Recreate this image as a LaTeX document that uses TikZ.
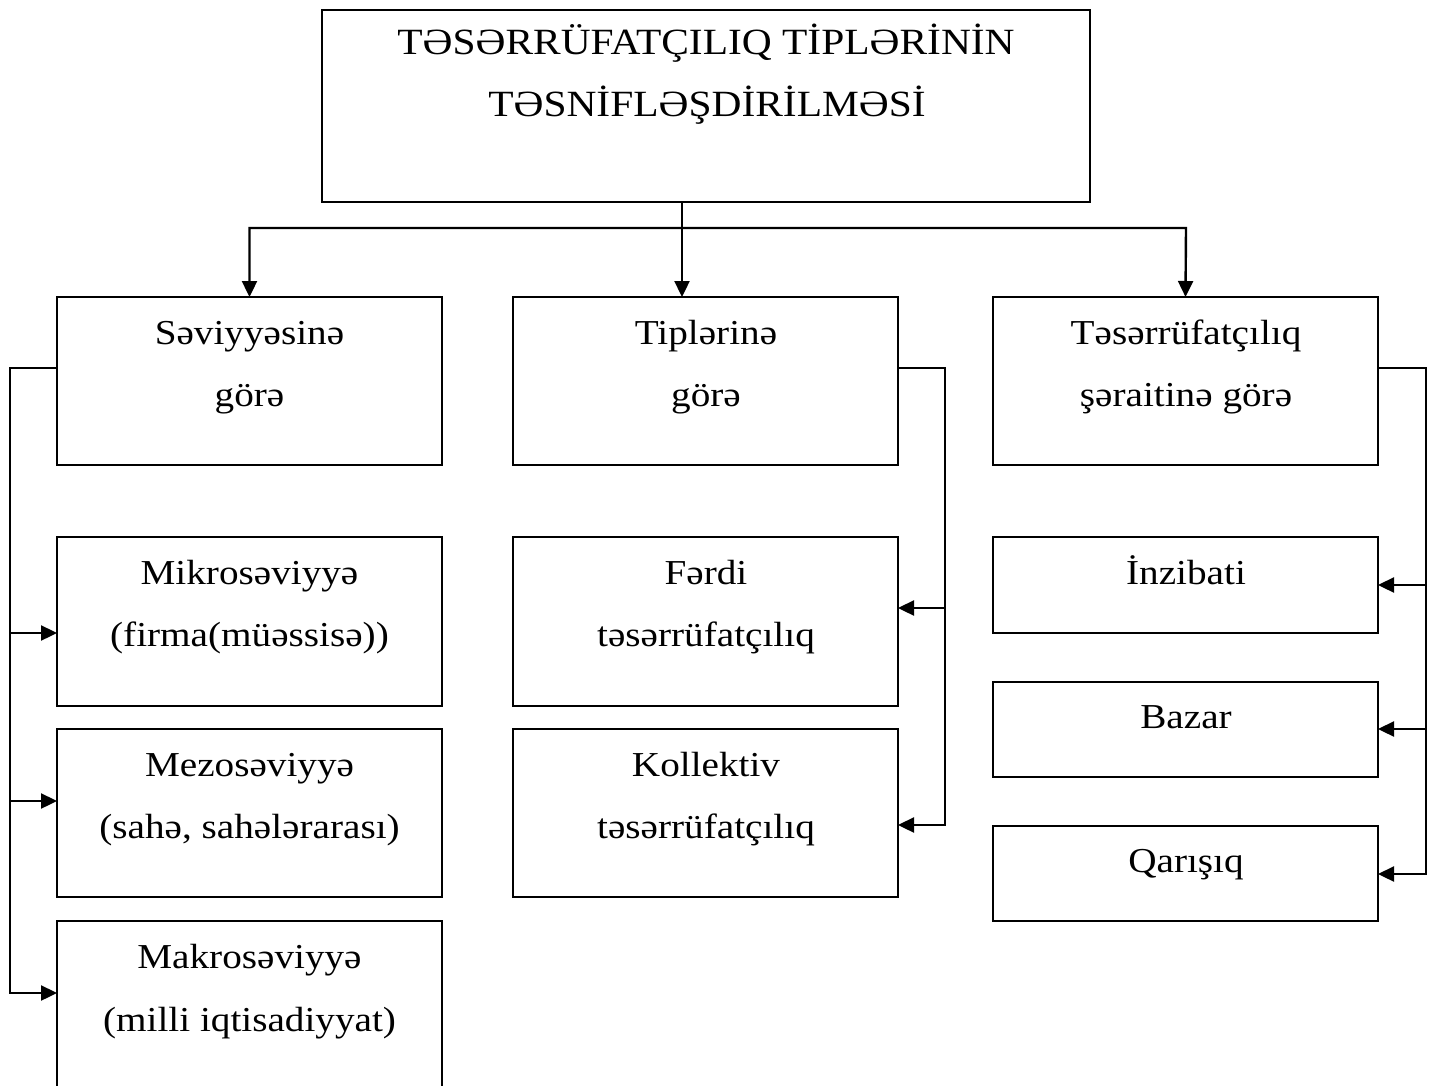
\documentclass[tikz,border=0pt]{standalone}
\usepackage{fontspec}
\setmainfont{Liberation Serif}[FakeStretch=1.12]
\usetikzlibrary{arrows.meta}
\begin{document}
\begin{tikzpicture}[x=0.5pt,y=-0.5pt,
  box/.style={draw=black,line width=1.2pt,inner sep=0pt,outer sep=0pt,minimum width=192.5pt},
  txt/.style={inner sep=0pt,anchor=base,font=\fontsize{17.5pt}{21pt}\selectfont},
  ttl/.style={inner sep=0pt,anchor=base,font=\fontsize{18.5pt}{22pt}\selectfont},
  conn/.style={line width=1.2pt,line cap=rect},
  arr/.style={line width=1.2pt,line cap=rect,-{Triangle[length=8pt,width=7.5pt]}}]
\useasboundingbox (0,0) rectangle (1435,1086);
% top box
\node[box,minimum width=384pt,minimum height=96pt] (top) at (706,106) {};
\node[ttl] (tt1) at (706,55) {TƏSƏRRÜFATÇILIQ TİPLƏRİNİN};
\node[ttl] (tt2) at (707,117) {TƏSNİFLƏŞDİRİLMƏSİ};
% level 2
\node[box,minimum height=84pt] (s1) at (249.5,381) {};
\node[box,minimum height=84pt] (s2) at (705.5,381) {};
\node[box,minimum height=84pt] (s3) at (1185.5,381) {};
\node[txt] (s1a) at (249.5,344) {Səviyyəsinə};
\node[txt] (s1b) at (249.5,406) {görə};
\node[txt] (s2a) at (706,344) {Tiplərinə};
\node[txt] (s2b) at (706,406) {görə};
\node[txt] (s3a) at (1186,344) {Təsərrüfatçılıq};
\node[txt] (s3b) at (1186,406) {şəraitinə görə};
% level 3 left
\node[box,minimum height=84.5pt] (m1) at (249.5,621.5) {};
\node[box,minimum height=84pt] (m2) at (249.5,813) {};
\node[box,minimum height=88pt] (m3) at (249.5,1009) {};
\node[txt] (m1a) at (249.5,584) {Mikrosəviyyə};
\node[txt] (m1b) at (249.5,646) {(firma(müəssisə))};
\node[txt] (m2a) at (249.5,776) {Mezosəviyyə};
\node[txt] (m2b) at (249.5,838) {(sahə, sahələrarası)};
\node[txt] (m3a) at (249.5,968) {Makrosəviyyə};
\node[txt] (m3b) at (249.5,1031) {(milli iqtisadiyyat)};
% level 3 middle
\node[box,minimum height=84.5pt] (f1) at (705.5,621.5) {};
\node[box,minimum height=84pt] (f2) at (705.5,813) {};
\node[txt] (f1a) at (706,584) {Fərdi};
\node[txt] (f1b) at (706,646) {təsərrüfatçılıq};
\node[txt] (f2a) at (706,776) {Kollektiv};
\node[txt] (f2b) at (706,838) {təsərrüfatçılıq};
% level 3 right
\node[box,minimum height=48pt] (r1) at (1185.5,585) {};
\node[box,minimum height=47.5pt] (r2) at (1185.5,729.5) {};
\node[box,minimum height=47.5pt] (r3) at (1185.5,873.5) {};
\node[txt] (r1a) at (1186,584) {İnzibati};
\node[txt] (r2a) at (1186,728) {Bazar};
\node[txt] (r3a) at (1186,872) {Qarışıq};
% top connectors
\coordinate (bar) at (682,228);
\coordinate (barL) at (249.5,228);
\coordinate (barR) at (1186,228);
\draw[conn] (top.south -| bar) -- (bar);
\draw[line width=1.2pt,{Triangle[length=8pt,width=7.5pt]}-{Triangle[length=8pt,width=7.5pt]}]
  (s1.north) -- (barL) -- (barR) -- (s3.north);
\draw[arr] (bar) -- (s2.north -| bar);
% left connector
\coordinate (lA) at (10,368);
\coordinate (l1) at (10,633);
\coordinate (l2) at (10,801);
\coordinate (l3) at (10,993);
\draw[conn] (s1.west |- lA) -- (lA) -- (l3);
\draw[arr] (l1) -- (m1.west |- l1);
\draw[arr] (l2) -- (m2.west |- l2);
\draw[arr] (l3) -- (m3.west |- l3);
% middle connector
\coordinate (cA) at (945,368);
\coordinate (c1) at (945,608);
\coordinate (c2) at (945,825);
\draw[conn] (s2.east |- cA) -- (cA) -- (c2);
\draw[arr] (c1) -- (f1.east |- c1);
\draw[arr] (c2) -- (f2.east |- c2);
% right connector
\coordinate (rA) at (1426,368);
\coordinate (q1) at (1426,585);
\coordinate (q2) at (1426,729);
\coordinate (q3) at (1426,874);
\draw[conn] (s3.east |- rA) -- (rA) -- (q3);
\draw[arr] (q1) -- (r1.east |- q1);
\draw[arr] (q2) -- (r2.east |- q2);
\draw[arr] (q3) -- (r3.east |- q3);
\end{tikzpicture}
\end{document}
